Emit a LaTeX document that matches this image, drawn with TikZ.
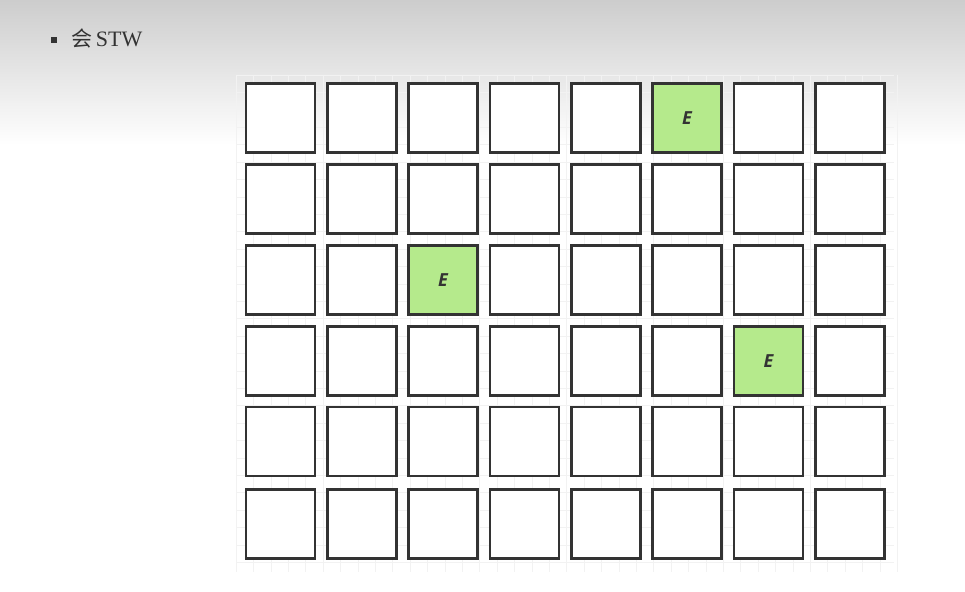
\documentclass[tikz,border=0pt]{standalone}
\usepackage{fontspec}
\setmainfont{Liberation Serif}
\newfontfamily\cjk{Noto Sans CJK SC}
\newfontfamily\esans{Open Sans}
\definecolor{boxline}{HTML}{333333}
\definecolor{greenfill}{HTML}{B5EA8C}
\definecolor{topgray}{HTML}{CDCDCD}
\definecolor{faint}{HTML}{F2F2F2}
\begin{document}
\begin{tikzpicture}[x=1pt,y=-1pt,
  cell/.style={draw=boxline,line width=2.4pt,minimum width=69pt,minimum height=69pt,inner sep=0pt,fill=white},
  ecell/.style={cell,fill=greenfill,font=\esans\bfseries\itshape\fontsize{18}{18}\selectfont,text=boxline}]
\useasboundingbox (0,0) rectangle (965,591);
\fill[white] (0,0) rectangle (965,591);
\shade[top color=topgray,bottom color=white] (0,0) rectangle (965,145);
% faint background grid
\foreach \gx in {0,...,38} {\draw[faint,line width=0.6pt] ({236+\gx*17.4},75) -- ({236+\gx*17.4},572);}
\foreach \gy in {0,...,28} {\draw[faint,line width=0.6pt] (236,{75+\gy*17.4}) -- (894,{75+\gy*17.4});}
% title
\node[fill=boxline,minimum size=6.5pt,inner sep=0pt] (bul) at (54,40) {};
\node[anchor=west,inner sep=0pt,text=boxline,font=\fontsize{22}{22}\selectfont] (title) at (71,39) {{\cjk\fontsize{21}{21}\selectfont 会}\,STW};
% grid of cells
\foreach \c/\x in {1/280.5,2/362,3/443,4/524.5,5/606,6/687,7/768.5,8/850} {
  \foreach \r/\y in {1/118,2/199,3/280,4/361,5/441.5,6/524} {
    \node[cell] (c\r\c) at (\x,\y) {};
  }
}
\node[ecell] (e1) at (c16) {E};
\node[ecell] (e2) at (c33) {E};
\node[ecell] (e3) at (c47) {E};
\end{tikzpicture}
\end{document}
